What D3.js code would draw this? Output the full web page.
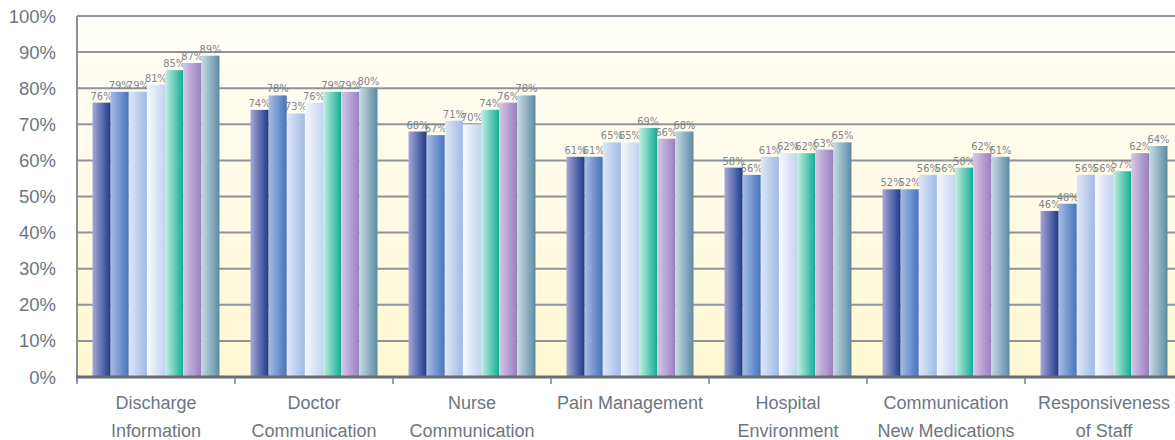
<!DOCTYPE html>
<html><head><meta charset="utf-8">
<script src="https://cdn.jsdelivr.net/npm/d3@7"></script>
<style>body{margin:0;background:#fff}svg{display:block}</style>
</head><body>
<svg id="c" width="1175" height="440"></svg>
<script>
const categories = [["Discharge","Information"],["Doctor","Communication"],["Nurse","Communication"],["Pain Management"],["Hospital","Environment"],["Communication","New Medications"],["Responsiveness","of Staff"]];
const series1 = [76,74,68,61,58,52,46];
const series2 = [79,78,67,61,56,52,48];
const series3 = [79,73,71,65,61,56,56];
const series4 = [81,76,70,65,62,56,56];
const series5 = [85,79,74,69,62,58,57];
const series6 = [87,79,76,66,63,62,62];
const series7 = [89,80,78,68,65,61,64];
const allSeries = [series1,series2,series3,series4,series5,series6,series7];
const yTicks = [0,10,20,30,40,50,60,70,80,90,100];
const gradStops = [["#a6a8d8","#1d3a8a"],["#a8bce8","#4472bc"],["#dfe7f7","#a0bae6"],["#f6f9ff","#c4d3ee"],["#c8eee2","#10ae94"],["#d6c8e6","#9a7ebe"],["#c6dce4","#5c8aa2"]];

const svg = d3.select("#c");
const m = {l:77, t:16, b:377};
const plotW = 158*7;
const x = d3.scaleBand().domain(d3.range(7)).range([m.l, m.l+plotW]).paddingInner(0).paddingOuter(0);
const y = d3.scaleLinear().domain([0,100]).range([m.b, m.t]);
const inner = d3.scaleBand().domain(d3.range(7)).range([15.5, 158-15.5]);

const defs = svg.append("defs");
const bg = defs.append("linearGradient").attr("id","bg").attr("x1",0).attr("y1",0).attr("x2",0).attr("y2",1);
bg.append("stop").attr("offset","0%").attr("stop-color","#fffef9");
bg.append("stop").attr("offset","100%").attr("stop-color","#fff8d2");
gradStops.forEach((g,i)=>{
  const lg = defs.append("linearGradient").attr("id","g"+i).attr("x1",0).attr("y1",0).attr("x2",1).attr("y2",0);
  lg.append("stop").attr("offset","0%").attr("stop-color",g[0]);
  lg.append("stop").attr("offset","100%").attr("stop-color",g[1]);
});

svg.append("rect").attr("x",m.l).attr("y",m.t).attr("width",plotW).attr("height",m.b-m.t).attr("fill","url(#bg)");

// gridlines
svg.append("g").selectAll("line").data(yTicks.filter(d=>d>0)).join("line")
  .attr("x1",m.l).attr("x2",m.l+plotW).attr("y1",d=>y(d)).attr("y2",d=>y(d))
  .attr("stroke","#8e949a").attr("stroke-width",2);

// y labels
svg.append("g").selectAll("text").data(yTicks).join("text")
  .attr("x",56).attr("y",d=>y(d)+6.5).attr("text-anchor","end")
  .attr("font-family","Liberation Sans, Arial, sans-serif").attr("font-size",18.5)
  .attr("fill","#6c7680").text(d=>d+"%");

// bars
const groups = svg.append("g").selectAll("g").data(categories).join("g")
  .attr("transform",(d,i)=>`translate(${x(i)},0)`);
allSeries.forEach((s,si)=>{
  groups.append("rect")
    .attr("x",inner(si)).attr("width",inner.bandwidth())
    .attr("y",(d,ci)=>y(s[ci])).attr("height",(d,ci)=>y(0)-y(s[ci]))
    .attr("fill",`url(#g${si})`);
  groups.append("text")
    .attr("x",inner(si)+inner.bandwidth()/2).attr("y",(d,ci)=>y(s[ci])-3)
    .attr("text-anchor","middle")
    .attr("font-family","Liberation Sans Narrow, DejaVu Sans Condensed, sans-serif").attr("font-size",11)
    .attr("fill","#7d8590").text((d,ci)=>s[ci]+"%");
});

// axes
svg.append("line").attr("x1",m.l).attr("x2",m.l).attr("y1",m.t).attr("y2",m.b+4).attr("stroke","#8a9096").attr("stroke-width",2);
svg.append("line").attr("x1",m.l-1).attr("x2",m.l+plotW).attr("y1",m.b).attr("y2",m.b).attr("stroke","#666d75").attr("stroke-width",3);
svg.append("g").selectAll("line").data(d3.range(8)).join("line")
  .attr("x1",i=>m.l+i*158).attr("x2",i=>m.l+i*158).attr("y1",m.b).attr("y2",m.b+7)
  .attr("stroke","#7a8088").attr("stroke-width",1.5);

// category labels
const cl = svg.append("g").selectAll("text").data(categories).join("text")
  .attr("x",(d,i)=>x(i)+79).attr("y",409).attr("text-anchor","middle")
  .attr("font-family","Liberation Sans, Arial, sans-serif").attr("font-size",18)
  .attr("fill","#6c7680");
cl.selectAll("tspan").data(d=>d).join("tspan")
  .attr("x",function(){return this.parentNode.getAttribute("x");})
  .attr("dy",(d,i)=>i===0?0:28).text(d=>d);
</script>
</body></html>
